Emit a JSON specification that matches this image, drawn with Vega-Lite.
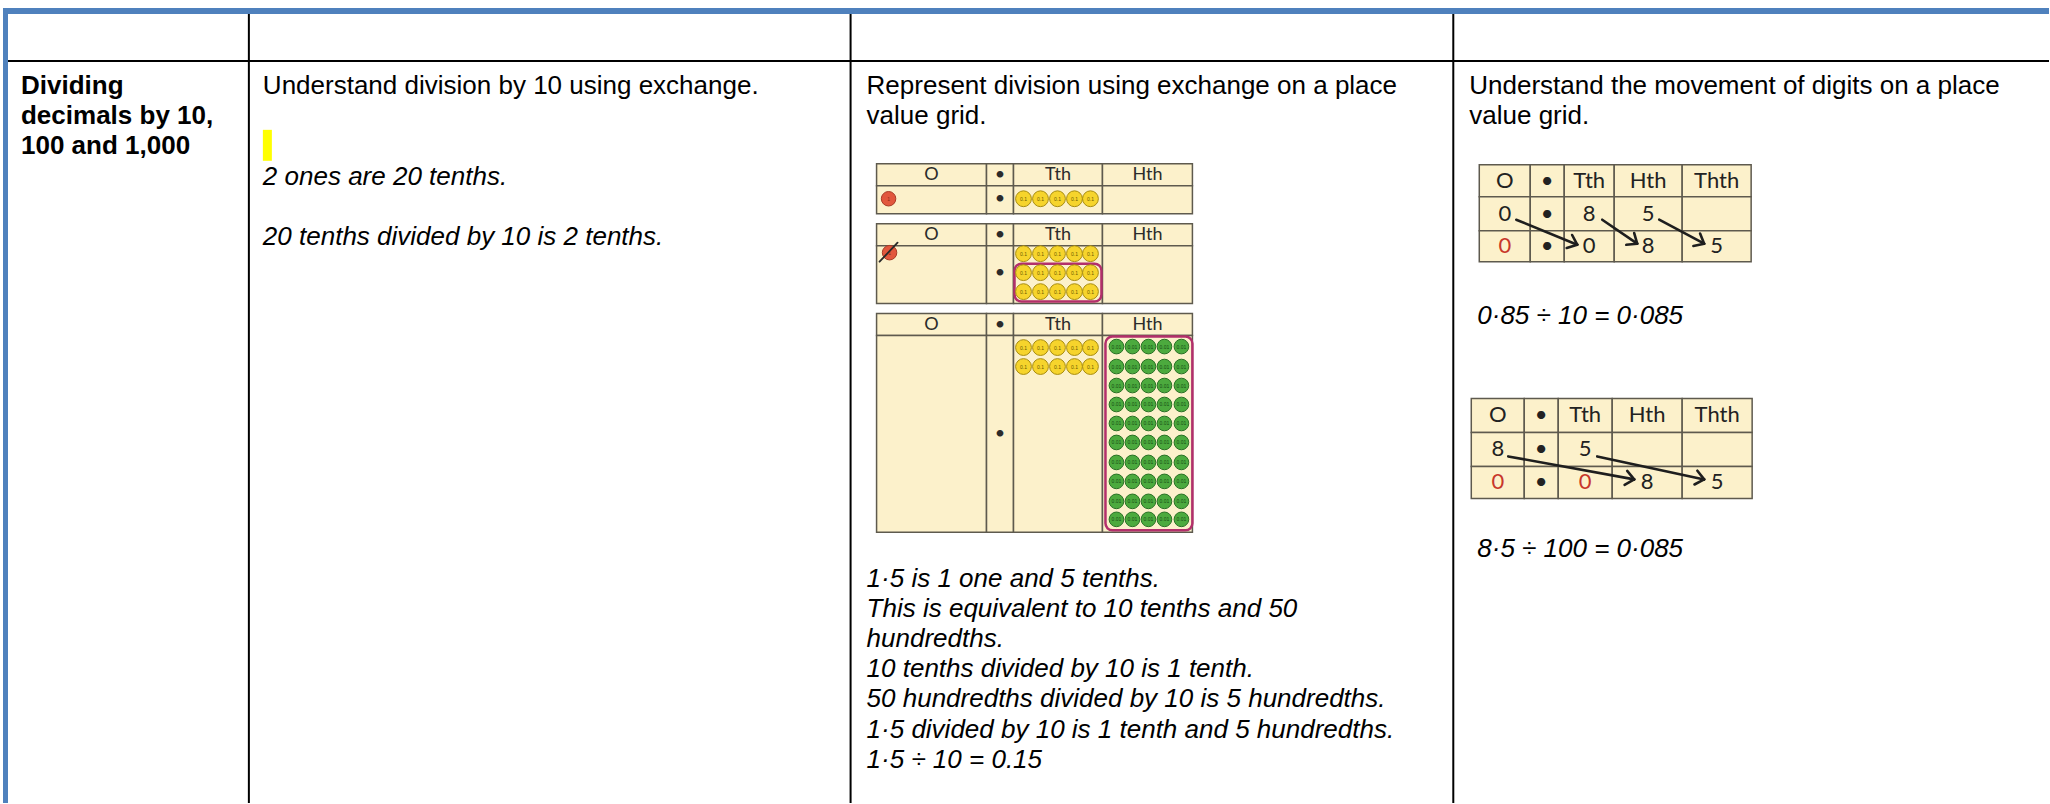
{
"$schema": "https://vega.github.io/schema/vega-lite/v6.json",
"width": 2050, "height": 804,
"autosize": {"type": "fit", "contains": "padding"},
"padding": 0,
"background": "white",
"config": {"view": {"stroke": null}},
"datasets": {
"frame": [
{"x": 3, "x2": 2050, "y": 8, "y2": 14},
{"x": 3, "x2": 8, "y": 8, "y2": 804}
],
"highlight": [{"x": 263, "x2": 272, "y": 130, "y2": 161}],
"lines": [
{"kind": "table", "x": 8, "x2": 2050, "y": 61, "y2": 61},
{"kind": "table", "x": 249, "x2": 249, "y": 14, "y2": 804},
{"kind": "table", "x": 851, "x2": 851, "y": 14, "y2": 804},
{"kind": "table", "x": 1454, "x2": 1454, "y": 14, "y2": 804},
{"kind": "slash", "x": 880, "x2": 898, "y": 262, "y2": 243},
{"kind": "arrow", "x": 1517, "y": 220, "x2": 1578, "y2": 245},
{"kind": "arrow", "x": 1578, "y": 245, "x2": 1567.5, "y2": 248.3},
{"kind": "arrow", "x": 1578, "y": 245, "x2": 1572.9, "y2": 235.3},
{"kind": "arrow", "x": 1603, "y": 220, "x2": 1638, "y2": 244},
{"kind": "arrow", "x": 1638, "y": 244, "x2": 1627.1, "y2": 245.1},
{"kind": "arrow", "x": 1638, "y": 244, "x2": 1635.0, "y2": 233.4},
{"kind": "arrow", "x": 1660, "y": 220, "x2": 1705, "y2": 244},
{"kind": "arrow", "x": 1705, "y": 244, "x2": 1694.2, "y2": 246.3},
{"kind": "arrow", "x": 1705, "y": 244, "x2": 1700.9, "y2": 233.8},
{"kind": "arrow", "x": 1509, "y": 457, "x2": 1635, "y2": 480},
{"kind": "arrow", "x": 1635, "y": 480, "x2": 1625.4, "y2": 485.5},
{"kind": "arrow", "x": 1635, "y": 480, "x2": 1628.0, "y2": 471.5},
{"kind": "arrow", "x": 1598, "y": 457, "x2": 1705, "y2": 480},
{"kind": "arrow", "x": 1705, "y": 480, "x2": 1695.3, "y2": 485.1},
{"kind": "arrow", "x": 1705, "y": 480, "x2": 1698.2, "y2": 471.3}
],
"cells": [
{"x": 877, "x2": 987, "y": 164, "y2": 186}, {"x": 987, "x2": 1014, "y": 164, "y2": 186}, {"x": 1014, "x2": 1103, "y": 164, "y2": 186}, {"x": 1103, "x2": 1193, "y": 164, "y2": 186},
{"x": 877, "x2": 987, "y": 186, "y2": 214}, {"x": 987, "x2": 1014, "y": 186, "y2": 214}, {"x": 1014, "x2": 1103, "y": 186, "y2": 214}, {"x": 1103, "x2": 1193, "y": 186, "y2": 214},
{"x": 877, "x2": 987, "y": 224, "y2": 246}, {"x": 987, "x2": 1014, "y": 224, "y2": 246}, {"x": 1014, "x2": 1103, "y": 224, "y2": 246}, {"x": 1103, "x2": 1193, "y": 224, "y2": 246},
{"x": 877, "x2": 987, "y": 246, "y2": 304}, {"x": 987, "x2": 1014, "y": 246, "y2": 304}, {"x": 1014, "x2": 1103, "y": 246, "y2": 304}, {"x": 1103, "x2": 1193, "y": 246, "y2": 304},
{"x": 877, "x2": 987, "y": 314, "y2": 336}, {"x": 987, "x2": 1014, "y": 314, "y2": 336}, {"x": 1014, "x2": 1103, "y": 314, "y2": 336}, {"x": 1103, "x2": 1193, "y": 314, "y2": 336},
{"x": 877, "x2": 987, "y": 336, "y2": 533}, {"x": 987, "x2": 1014, "y": 336, "y2": 533}, {"x": 1014, "x2": 1103, "y": 336, "y2": 533}, {"x": 1103, "x2": 1193, "y": 336, "y2": 533},
{"x": 1480, "x2": 1531, "y": 165, "y2": 197}, {"x": 1531, "x2": 1565, "y": 165, "y2": 197}, {"x": 1565, "x2": 1615, "y": 165, "y2": 197}, {"x": 1615, "x2": 1683, "y": 165, "y2": 197}, {"x": 1683, "x2": 1752, "y": 165, "y2": 197},
{"x": 1480, "x2": 1531, "y": 197, "y2": 231}, {"x": 1531, "x2": 1565, "y": 197, "y2": 231}, {"x": 1565, "x2": 1615, "y": 197, "y2": 231}, {"x": 1615, "x2": 1683, "y": 197, "y2": 231}, {"x": 1683, "x2": 1752, "y": 197, "y2": 231},
{"x": 1480, "x2": 1531, "y": 231, "y2": 262}, {"x": 1531, "x2": 1565, "y": 231, "y2": 262}, {"x": 1565, "x2": 1615, "y": 231, "y2": 262}, {"x": 1615, "x2": 1683, "y": 231, "y2": 262}, {"x": 1683, "x2": 1752, "y": 231, "y2": 262},
{"x": 1472, "x2": 1525, "y": 399, "y2": 433}, {"x": 1525, "x2": 1559, "y": 399, "y2": 433}, {"x": 1559, "x2": 1613, "y": 399, "y2": 433}, {"x": 1613, "x2": 1683, "y": 399, "y2": 433}, {"x": 1683, "x2": 1753, "y": 399, "y2": 433},
{"x": 1472, "x2": 1525, "y": 433, "y2": 467}, {"x": 1525, "x2": 1559, "y": 433, "y2": 467}, {"x": 1559, "x2": 1613, "y": 433, "y2": 467}, {"x": 1613, "x2": 1683, "y": 433, "y2": 467}, {"x": 1683, "x2": 1753, "y": 433, "y2": 467},
{"x": 1472, "x2": 1525, "y": 467, "y2": 499}, {"x": 1525, "x2": 1559, "y": 467, "y2": 499}, {"x": 1559, "x2": 1613, "y": 467, "y2": 499}, {"x": 1613, "x2": 1683, "y": 467, "y2": 499}, {"x": 1683, "x2": 1753, "y": 467, "y2": 499}
],
"loops": [
{"x": 1015, "x2": 1102, "y": 264, "y2": 302},
{"x": 1106, "x2": 1193, "y": 337, "y2": 531}
],
"counters": [
{"kind": "one", "label": "1", "x": 889, "y": 199},
{"kind": "one", "label": "1", "x": 890, "y": 253},
{"kind": "tenth", "label": "0.1", "x": 1024, "y": 199}, {"kind": "tenth", "label": "0.1", "x": 1041, "y": 199}, {"kind": "tenth", "label": "0.1", "x": 1058, "y": 199}, {"kind": "tenth", "label": "0.1", "x": 1075, "y": 199}, {"kind": "tenth", "label": "0.1", "x": 1091, "y": 199},
{"kind": "tenth", "label": "0.1", "x": 1024, "y": 254}, {"kind": "tenth", "label": "0.1", "x": 1041, "y": 254}, {"kind": "tenth", "label": "0.1", "x": 1058, "y": 254}, {"kind": "tenth", "label": "0.1", "x": 1075, "y": 254}, {"kind": "tenth", "label": "0.1", "x": 1091, "y": 254},
{"kind": "tenth", "label": "0.1", "x": 1024, "y": 273}, {"kind": "tenth", "label": "0.1", "x": 1041, "y": 273}, {"kind": "tenth", "label": "0.1", "x": 1058, "y": 273}, {"kind": "tenth", "label": "0.1", "x": 1075, "y": 273}, {"kind": "tenth", "label": "0.1", "x": 1091, "y": 273},
{"kind": "tenth", "label": "0.1", "x": 1024, "y": 292}, {"kind": "tenth", "label": "0.1", "x": 1041, "y": 292}, {"kind": "tenth", "label": "0.1", "x": 1058, "y": 292}, {"kind": "tenth", "label": "0.1", "x": 1075, "y": 292}, {"kind": "tenth", "label": "0.1", "x": 1091, "y": 292},
{"kind": "tenth", "label": "0.1", "x": 1024, "y": 348}, {"kind": "tenth", "label": "0.1", "x": 1041, "y": 348}, {"kind": "tenth", "label": "0.1", "x": 1058, "y": 348}, {"kind": "tenth", "label": "0.1", "x": 1075, "y": 348}, {"kind": "tenth", "label": "0.1", "x": 1091, "y": 348},
{"kind": "tenth", "label": "0.1", "x": 1024, "y": 367}, {"kind": "tenth", "label": "0.1", "x": 1041, "y": 367}, {"kind": "tenth", "label": "0.1", "x": 1058, "y": 367}, {"kind": "tenth", "label": "0.1", "x": 1075, "y": 367}, {"kind": "tenth", "label": "0.1", "x": 1091, "y": 367},
{"kind": "hundredth", "label": "0.01", "x": 1117, "y": 347}, {"kind": "hundredth", "label": "0.01", "x": 1133, "y": 347}, {"kind": "hundredth", "label": "0.01", "x": 1149, "y": 347}, {"kind": "hundredth", "label": "0.01", "x": 1165, "y": 347}, {"kind": "hundredth", "label": "0.01", "x": 1182, "y": 347},
{"kind": "hundredth", "label": "0.01", "x": 1117, "y": 367}, {"kind": "hundredth", "label": "0.01", "x": 1133, "y": 367}, {"kind": "hundredth", "label": "0.01", "x": 1149, "y": 367}, {"kind": "hundredth", "label": "0.01", "x": 1165, "y": 367}, {"kind": "hundredth", "label": "0.01", "x": 1182, "y": 367},
{"kind": "hundredth", "label": "0.01", "x": 1117, "y": 386}, {"kind": "hundredth", "label": "0.01", "x": 1133, "y": 386}, {"kind": "hundredth", "label": "0.01", "x": 1149, "y": 386}, {"kind": "hundredth", "label": "0.01", "x": 1165, "y": 386}, {"kind": "hundredth", "label": "0.01", "x": 1182, "y": 386},
{"kind": "hundredth", "label": "0.01", "x": 1117, "y": 405}, {"kind": "hundredth", "label": "0.01", "x": 1133, "y": 405}, {"kind": "hundredth", "label": "0.01", "x": 1149, "y": 405}, {"kind": "hundredth", "label": "0.01", "x": 1165, "y": 405}, {"kind": "hundredth", "label": "0.01", "x": 1182, "y": 405},
{"kind": "hundredth", "label": "0.01", "x": 1117, "y": 424}, {"kind": "hundredth", "label": "0.01", "x": 1133, "y": 424}, {"kind": "hundredth", "label": "0.01", "x": 1149, "y": 424}, {"kind": "hundredth", "label": "0.01", "x": 1165, "y": 424}, {"kind": "hundredth", "label": "0.01", "x": 1182, "y": 424},
{"kind": "hundredth", "label": "0.01", "x": 1117, "y": 443}, {"kind": "hundredth", "label": "0.01", "x": 1133, "y": 443}, {"kind": "hundredth", "label": "0.01", "x": 1149, "y": 443}, {"kind": "hundredth", "label": "0.01", "x": 1165, "y": 443}, {"kind": "hundredth", "label": "0.01", "x": 1182, "y": 443},
{"kind": "hundredth", "label": "0.01", "x": 1117, "y": 463}, {"kind": "hundredth", "label": "0.01", "x": 1133, "y": 463}, {"kind": "hundredth", "label": "0.01", "x": 1149, "y": 463}, {"kind": "hundredth", "label": "0.01", "x": 1165, "y": 463}, {"kind": "hundredth", "label": "0.01", "x": 1182, "y": 463},
{"kind": "hundredth", "label": "0.01", "x": 1117, "y": 482}, {"kind": "hundredth", "label": "0.01", "x": 1133, "y": 482}, {"kind": "hundredth", "label": "0.01", "x": 1149, "y": 482}, {"kind": "hundredth", "label": "0.01", "x": 1165, "y": 482}, {"kind": "hundredth", "label": "0.01", "x": 1182, "y": 482},
{"kind": "hundredth", "label": "0.01", "x": 1117, "y": 502}, {"kind": "hundredth", "label": "0.01", "x": 1133, "y": 502}, {"kind": "hundredth", "label": "0.01", "x": 1149, "y": 502}, {"kind": "hundredth", "label": "0.01", "x": 1165, "y": 502}, {"kind": "hundredth", "label": "0.01", "x": 1182, "y": 502},
{"kind": "hundredth", "label": "0.01", "x": 1117, "y": 520}, {"kind": "hundredth", "label": "0.01", "x": 1133, "y": 520}, {"kind": "hundredth", "label": "0.01", "x": 1149, "y": 520}, {"kind": "hundredth", "label": "0.01", "x": 1165, "y": 520}, {"kind": "hundredth", "label": "0.01", "x": 1182, "y": 520}
],
"gridText": [
{"panel": "c3", "kind": "head", "text": "O", "x": 932, "y": 175}, {"panel": "c3", "kind": "head", "text": "•", "x": 1000.5, "y": 175}, {"panel": "c3", "kind": "head", "text": "Tth", "x": 1058.5, "y": 175}, {"panel": "c3", "kind": "head", "text": "Hth", "x": 1148, "y": 175},
{"panel": "c3", "kind": "digit", "text": "•", "x": 1000.5, "y": 199},
{"panel": "c3", "kind": "head", "text": "O", "x": 932, "y": 235}, {"panel": "c3", "kind": "head", "text": "•", "x": 1000.5, "y": 235}, {"panel": "c3", "kind": "head", "text": "Tth", "x": 1058.5, "y": 235}, {"panel": "c3", "kind": "head", "text": "Hth", "x": 1148, "y": 235},
{"panel": "c3", "kind": "digit", "text": "•", "x": 1000.5, "y": 273},
{"panel": "c3", "kind": "head", "text": "O", "x": 932, "y": 325}, {"panel": "c3", "kind": "head", "text": "•", "x": 1000.5, "y": 325}, {"panel": "c3", "kind": "head", "text": "Tth", "x": 1058.5, "y": 325}, {"panel": "c3", "kind": "head", "text": "Hth", "x": 1148, "y": 325},
{"panel": "c3", "kind": "digit", "text": "•", "x": 1000.5, "y": 435},
{"panel": "c4", "kind": "head", "text": "O", "x": 1505.5, "y": 181}, {"panel": "c4", "kind": "head", "text": "•", "x": 1548, "y": 181}, {"panel": "c4", "kind": "head", "text": "Tth", "x": 1590, "y": 181}, {"panel": "c4", "kind": "head", "text": "Hth", "x": 1649, "y": 181}, {"panel": "c4", "kind": "head", "text": "Thth", "x": 1717.5, "y": 181},
{"panel": "c4", "kind": "digit", "text": "0", "x": 1505.5, "y": 214}, {"panel": "c4", "kind": "digit", "text": "•", "x": 1548, "y": 214}, {"panel": "c4", "kind": "digit", "text": "8", "x": 1590, "y": 214}, {"panel": "c4", "kind": "digit", "text": "5", "x": 1649, "y": 214},
{"panel": "c4", "kind": "zero", "text": "0", "x": 1505.5, "y": 246.5}, {"panel": "c4", "kind": "digit", "text": "•", "x": 1548, "y": 246.5}, {"panel": "c4", "kind": "digit", "text": "0", "x": 1590, "y": 246.5}, {"panel": "c4", "kind": "digit", "text": "8", "x": 1649, "y": 246.5}, {"panel": "c4", "kind": "digit", "text": "5", "x": 1717.5, "y": 246.5},
{"panel": "c4", "kind": "head", "text": "O", "x": 1498.5, "y": 416}, {"panel": "c4", "kind": "head", "text": "•", "x": 1542, "y": 416}, {"panel": "c4", "kind": "head", "text": "Tth", "x": 1586, "y": 416}, {"panel": "c4", "kind": "head", "text": "Hth", "x": 1648, "y": 416}, {"panel": "c4", "kind": "head", "text": "Thth", "x": 1718, "y": 416},
{"panel": "c4", "kind": "digit", "text": "8", "x": 1498.5, "y": 450}, {"panel": "c4", "kind": "digit", "text": "•", "x": 1542, "y": 450}, {"panel": "c4", "kind": "digit", "text": "5", "x": 1586, "y": 450},
{"panel": "c4", "kind": "zero", "text": "0", "x": 1498.5, "y": 483}, {"panel": "c4", "kind": "digit", "text": "•", "x": 1542, "y": 483}, {"panel": "c4", "kind": "zero", "text": "0", "x": 1586, "y": 483}, {"panel": "c4", "kind": "digit", "text": "8", "x": 1648, "y": 483}, {"panel": "c4", "kind": "digit", "text": "5", "x": 1718, "y": 483}
],
"texts": [
{"role": "topic", "text": "Dividing", "x": 21, "y": 94},
{"role": "topic", "text": "decimals by 10,", "x": 21, "y": 124},
{"role": "topic", "text": "100 and 1,000", "x": 21, "y": 154},
{"role": "body", "text": "Understand division by 10 using exchange.", "x": 263, "y": 94},
{"role": "body", "text": "Represent division using exchange on a place", "x": 867, "y": 94},
{"role": "body", "text": "value grid.", "x": 867, "y": 124},
{"role": "body", "text": "Understand the movement of digits on a place", "x": 1470, "y": 94},
{"role": "body", "text": "value grid.", "x": 1470, "y": 124},
{"role": "example", "text": "2 ones are 20 tenths.", "x": 263, "y": 185},
{"role": "example", "text": "20 tenths divided by 10 is 2 tenths.", "x": 263, "y": 245},
{"role": "example", "text": "1·5 is 1 one and 5 tenths.", "x": 867, "y": 588},
{"role": "example", "text": "This is equivalent to 10 tenths and 50", "x": 867, "y": 618},
{"role": "example", "text": "hundredths.", "x": 867, "y": 648},
{"role": "example", "text": "10 tenths divided by 10 is 1 tenth.", "x": 867, "y": 678},
{"role": "example", "text": "50 hundredths divided by 10 is 5 hundredths.", "x": 867, "y": 708},
{"role": "example", "text": "1·5 divided by 10 is 1 tenth and 5 hundredths.", "x": 867, "y": 739},
{"role": "example", "text": "1·5 ÷ 10 = 0.15", "x": 867, "y": 769},
{"role": "example", "text": "0·85 ÷ 10 = 0·085", "x": 1478, "y": 324},
{"role": "example", "text": "8·5 ÷ 100 = 0·085", "x": 1478, "y": 558}
]
},
"encoding": {
"x": {"field": "x", "type": "quantitative", "scale": {"domain": [0, 2050], "nice": false, "zero": false}, "axis": null},
"y": {"field": "y", "type": "quantitative", "scale": {"domain": [0, 804], "nice": false, "zero": false, "reverse": true}, "axis": null}
},
"layer": [
{"data": {"name": "frame"}, "mark": {"type": "rect", "color": "#4f81bd"}, "encoding": {"x2": {"field": "x2"}, "y2": {"field": "y2"}}},
{"data": {"name": "highlight"}, "mark": {"type": "rect", "color": "#ffff00"}, "encoding": {"x2": {"field": "x2"}, "y2": {"field": "y2"}}},
{"data": {"name": "lines"}, "transform": [{"filter": "datum.kind === 'table'"}], "mark": {"type": "rule", "color": "#000000", "strokeWidth": 2}, "encoding": {"x2": {"field": "x2"}, "y2": {"field": "y2"}}},
{"data": {"name": "cells"}, "mark": {"type": "rect", "fill": "#fcf1cb", "stroke": "#5e5a4e", "strokeWidth": 1.5}, "encoding": {"x2": {"field": "x2"}, "y2": {"field": "y2"}}},
{"data": {"name": "loops"}, "mark": {"type": "rect", "fill": "transparent", "stroke": "#b32f6b", "strokeWidth": 2.5, "cornerRadius": 7}, "encoding": {"x2": {"field": "x2"}, "y2": {"field": "y2"}}},
{"data": {"name": "counters"}, "mark": {"type": "point", "shape": "circle", "filled": true, "strokeWidth": 1, "opacity": 1},
 "encoding": {
  "fill": {"condition": [{"test": "datum.kind === 'one'", "value": "#e2573d"}, {"test": "datum.kind === 'tenth'", "value": "#f6d42c"}], "value": "#4caa3e"},
  "stroke": {"condition": [{"test": "datum.kind === 'one'", "value": "#a83a26"}, {"test": "datum.kind === 'tenth'", "value": "#a88d12"}], "value": "#2a7126"},
  "size": {"condition": [{"test": "datum.kind === 'one'", "value": 210}, {"test": "datum.kind === 'tenth'", "value": 250}], "value": 215}
 }},
{"data": {"name": "counters"}, "mark": {"type": "text", "fontSize": 5, "font": "Liberation Sans", "align": "center", "baseline": "middle"},
 "encoding": {"text": {"field": "label"}, "color": {"condition": [{"test": "datum.kind === 'one'", "value": "#8a2a1a"}, {"test": "datum.kind === 'tenth'", "value": "#6d5a00"}], "value": "#174f15"}}},
{"data": {"name": "lines"}, "transform": [{"filter": "datum.kind === 'slash'"}], "mark": {"type": "rule", "color": "#2a2a2a", "strokeWidth": 1.8, "strokeCap": "round"}, "encoding": {"x2": {"field": "x2"}, "y2": {"field": "y2"}}},
{"data": {"name": "lines"}, "transform": [{"filter": "datum.kind === 'arrow'"}], "mark": {"type": "rule", "color": "#1e1e1e", "strokeWidth": 2.6, "strokeCap": "round"}, "encoding": {"x2": {"field": "x2"}, "y2": {"field": "y2"}}},
{"data": {"name": "gridText"}, "transform": [{"filter": "datum.panel === 'c3'"}], "mark": {"type": "text", "font": "Lato", "fontSize": 18, "align": "center", "baseline": "middle"},
 "encoding": {"text": {"field": "text"}, "color": {"value": "#2b2b2b"}}},
{"data": {"name": "gridText"}, "transform": [{"filter": "datum.panel === 'c4'"}], "mark": {"type": "text", "font": "Lato", "fontSize": 22, "align": "center", "baseline": "middle"},
 "encoding": {"text": {"field": "text"}, "color": {"condition": {"test": "datum.kind === 'zero'", "value": "#c8372b"}, "value": "#222222"}}},
{"data": {"name": "texts"}, "transform": [{"filter": "datum.role === 'topic'"}], "mark": {"type": "text", "font": "Liberation Sans", "fontSize": 26, "fontWeight": "bold", "align": "left", "baseline": "alphabetic", "color": "#000000"}, "encoding": {"text": {"field": "text"}}},
{"data": {"name": "texts"}, "transform": [{"filter": "datum.role === 'body'"}], "mark": {"type": "text", "font": "Liberation Sans", "fontSize": 26, "align": "left", "baseline": "alphabetic", "color": "#000000"}, "encoding": {"text": {"field": "text"}}},
{"data": {"name": "texts"}, "transform": [{"filter": "datum.role === 'example'"}], "mark": {"type": "text", "font": "Liberation Sans", "fontSize": 26, "fontStyle": "italic", "align": "left", "baseline": "alphabetic", "color": "#000000"}, "encoding": {"text": {"field": "text"}}}
]
}
